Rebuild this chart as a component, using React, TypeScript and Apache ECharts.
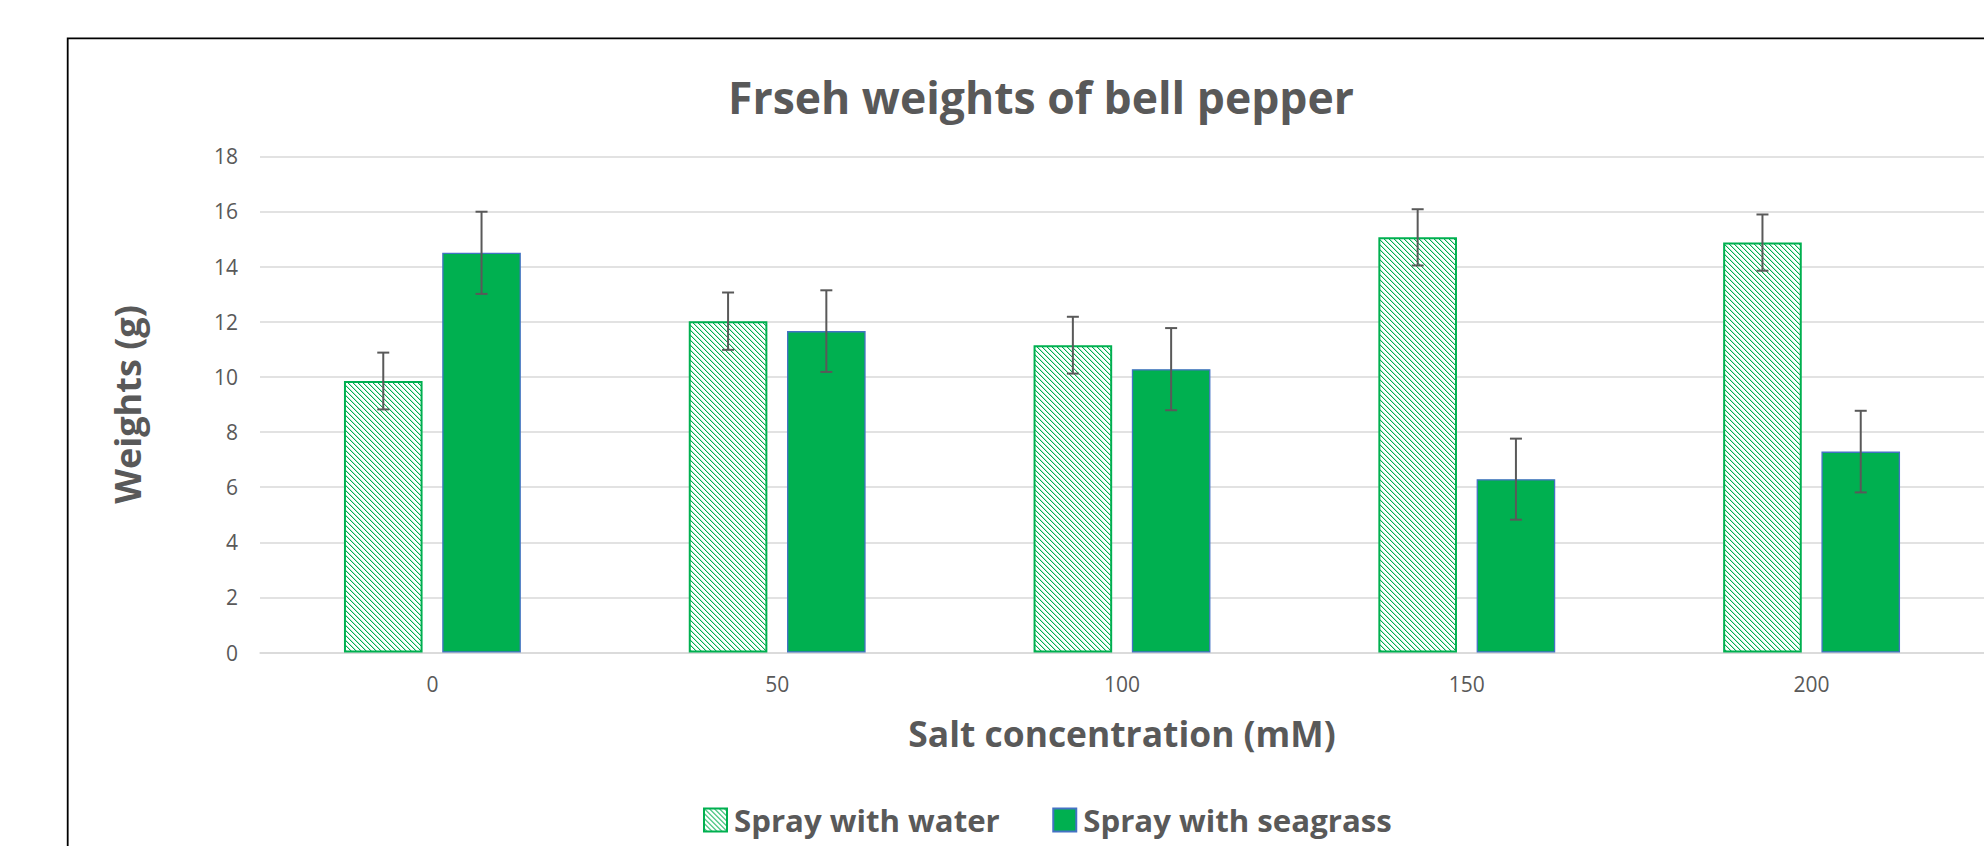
import React, { useEffect, useRef } from "react";
import * as echarts from "echarts";

const categories = ["0", "50", "100", "150", "200"];
const waterValues = [9.85, 12.02, 11.15, 15.06, 14.87];
const waterErrors = [1.03, 1.04, 1.03, 1.02, 1.02];
const seagrassValues = [14.5, 11.66, 10.28, 6.29, 7.29];
const seagrassErrors = [1.49, 1.48, 1.49, 1.47, 1.48];
const yTicks = { min: 0, max: 18, interval: 2 };

const GREEN = "#00B050";
const BLUE = "#4472C4";
const TEXT = "#595959";
const FONT = "'Open Sans', 'Noto Sans', sans-serif";
const BAR_RATIO = 0.228;
const GAP_RATIO = 0.25;

function makeHatch(): HTMLCanvasElement {
  const c = document.createElement("canvas");
  c.width = 5;
  c.height = 5;
  const ctx = c.getContext("2d")!;
  ctx.fillStyle = "#ffffff";
  ctx.fillRect(0, 0, 5, 5);
  for (let i = 0; i < 5; i++) {
    ctx.fillStyle = GREEN;
    ctx.fillRect(i, i, 1, 1);
    ctx.fillStyle = "rgba(0,176,80,0.3)";
    ctx.fillRect((i + 1) % 5, i, 1, 1);
  }
  return c;
}

function errorSeries(values: number[], errors: number[], sign: number) {
  return {
    type: "custom",
    z: 5,
    silent: true,
    data: values.map((v, i) => [i, v, errors[i]]),
    renderItem: (params: any, api: any) => {
      const idx = api.value(0);
      const v = api.value(1);
      const e = api.value(2);
      const bw = api.size([1, 0])[0];
      const barW = bw * BAR_RATIO;
      const off = ((barW + barW * GAP_RATIO) / 2) * sign;
      const top = api.coord([idx, v + e]);
      const bot = api.coord([idx, v - e]);
      const x = top[0] + off;
      const cap = 6;
      const style = { stroke: TEXT, lineWidth: 2 };
      return {
        type: "group",
        children: [
          { type: "line", shape: { x1: x, y1: top[1], x2: x, y2: bot[1] }, style },
          { type: "line", shape: { x1: x - cap, y1: top[1], x2: x + cap, y2: top[1] }, style },
          { type: "line", shape: { x1: x - cap, y1: bot[1], x2: x + cap, y2: bot[1] }, style },
        ],
      };
    },
  };
}

export default function App() {
  const ref = useRef<HTMLDivElement>(null);
  useEffect(() => {
    if (!ref.current) return;
    const chart = echarts.init(ref.current, undefined, { renderer: "svg" });
    const hatch = makeHatch();
    const option: any = {
      animation: false,
      backgroundColor: "#ffffff",
      title: {
        text: "Frseh weights of bell pepper",
        left: 1036,
        textAlign: "center",
        top: 69,
        textStyle: { fontFamily: FONT, fontSize: 44.5, fontWeight: "bold", color: TEXT },
      },
      legend: {
        data: ["Spray with water", "Spray with seagrass"],
        left: 698,
        top: 799,
        icon: "rect",
        itemWidth: 23,
        itemHeight: 23,
        itemGap: 52.5,
        textStyle: {
          fontFamily: FONT,
          fontSize: 31.2,
          fontWeight: "bold",
          color: TEXT,
          lineHeight: 32,
          padding: [0, 0, 0, 2],
        },
      },
      grid: { left: 260, right: 0, top: 156.3, bottom: 193.4, containLabel: false },
      xAxis: {
        type: "category",
        data: categories,
        name: "Salt concentration (mM)",
        nameLocation: "middle",
        nameGap: 63,
        nameTextStyle: { fontFamily: FONT, fontSize: 35.4, fontWeight: "bold", color: TEXT },
        axisTick: { show: false },
        axisLine: { lineStyle: { color: "#D9D9D9", width: 1.5 } },
        axisLabel: { fontFamily: FONT, fontSize: 21, color: TEXT, margin: 21 },
      },
      yAxis: {
        type: "value",
        min: yTicks.min,
        max: yTicks.max,
        interval: yTicks.interval,
        name: "Weights (g)",
        nameLocation: "middle",
        nameGap: 115,
        nameTextStyle: { fontFamily: FONT, fontSize: 36, fontWeight: "bold", color: TEXT },
        axisLine: { show: false },
        axisTick: { show: false },
        axisLabel: { fontFamily: FONT, fontSize: 21, color: TEXT, margin: 22 },
        splitLine: { lineStyle: { color: "#D9D9D9", width: 1.5 } },
      },
      series: [
        {
          name: "Spray with water",
          type: "bar",
          data: waterValues,
          barWidth: BAR_RATIO * 100 + "%",
          barGap: GAP_RATIO * 100 + "%",
          itemStyle: {
            color: { image: hatch, repeat: "repeat", imageWidth: 5, imageHeight: 5 },
            borderColor: GREEN,
            borderWidth: 2,
          },
        },
        {
          name: "Spray with seagrass",
          type: "bar",
          data: seagrassValues,
          barWidth: BAR_RATIO * 100 + "%",
          barGap: GAP_RATIO * 100 + "%",
          itemStyle: { color: GREEN, borderColor: BLUE, borderWidth: 1.3 },
        },
        errorSeries(waterValues, waterErrors, -1),
        errorSeries(seagrassValues, seagrassErrors, 1),
      ],
      graphic: [
        {
          type: "rect",
          silent: true,
          z: 100,
          shape: { x: 67.7, y: 38.3, width: 2200, height: 1200 },
          style: { fill: "none", stroke: "#000000", lineWidth: 1.8 },
        },
      ],
    };
    chart.setOption(option);
    return () => chart.dispose();
  }, []);
  return (
    <div
      ref={ref}
      style={{ position: "absolute", left: 0, top: 0, width: 1984, height: 846, background: "#fff" }}
    />
  );
}
